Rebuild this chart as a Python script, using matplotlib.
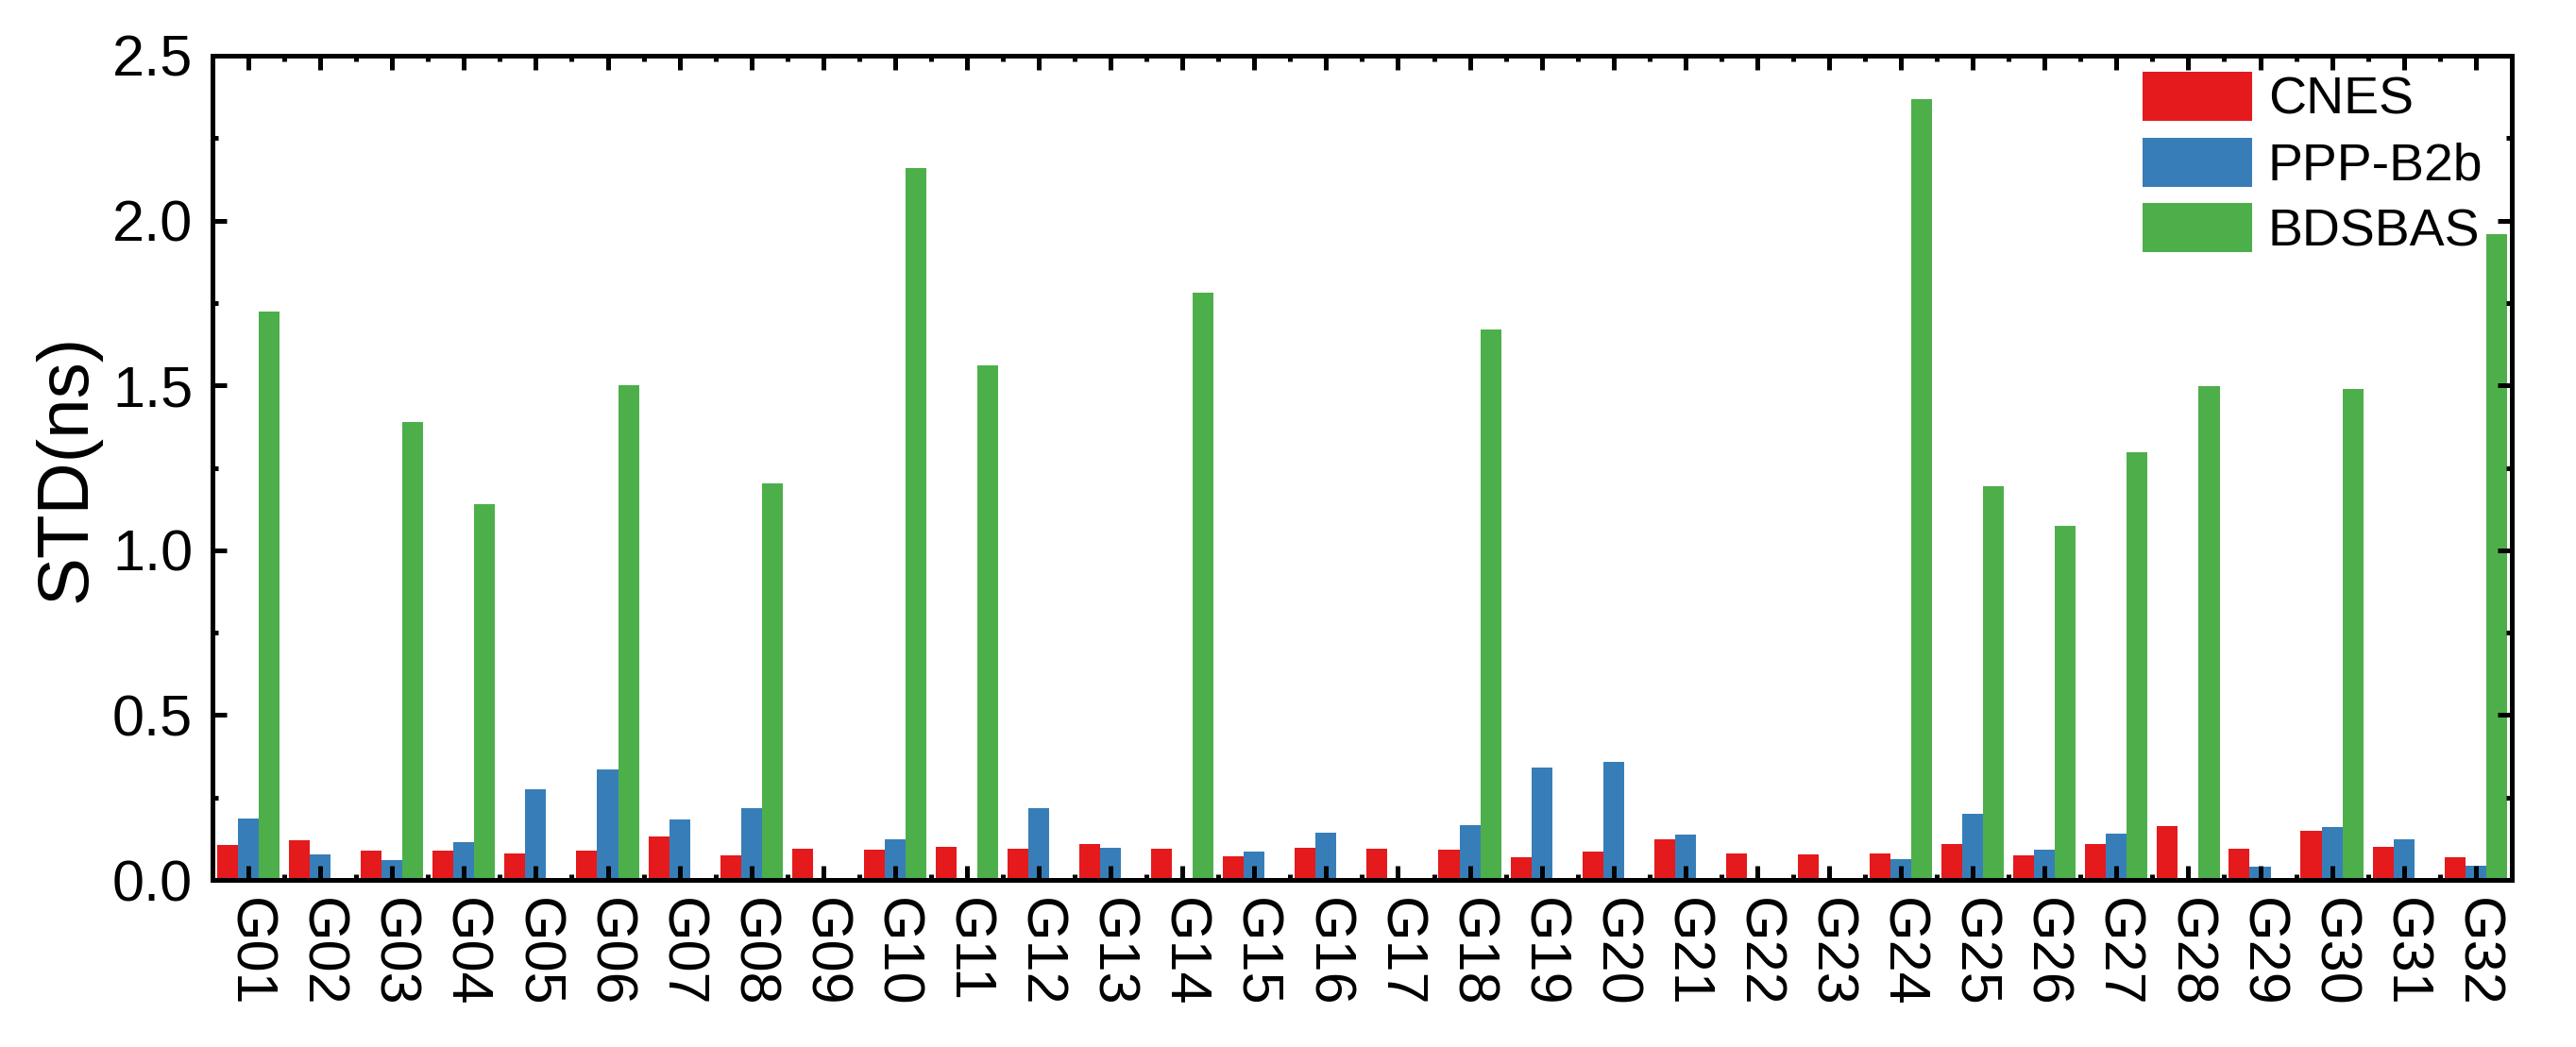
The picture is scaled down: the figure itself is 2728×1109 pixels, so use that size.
#!/usr/bin/env python3
"""
STD of clock products per GPS satellite (CNES / PPP-B2b / BDSBAS)
"""

import numpy as np
import matplotlib
matplotlib.use('Agg')
import matplotlib.pyplot as plt
from matplotlib.ticker import MultipleLocator

plt.rcParams['font.family'] = ['Liberation Sans', 'DejaVu Sans']

nan = np.nan

# satellite PRNs
sats = ['G%02d' % i for i in range(1, 33)]

# STD values (ns), nan = no product for that satellite
cnes = [0.107, 0.120, 0.090, 0.090, 0.079, 0.090, 0.133, 0.075,
        0.095, 0.092, 0.099, 0.095, 0.110, 0.094, 0.073, 0.097,
        0.094, 0.093, 0.068, 0.086, 0.123, 0.081, 0.078, 0.081,
        0.108, 0.075, 0.110, 0.162, 0.095, 0.150, 0.100, 0.068]
ppp_b2b = [0.185, 0.078, 0.060, 0.115, 0.274, 0.336, 0.182, 0.219,
           nan, 0.123, nan, 0.217, 0.098, nan, 0.086, 0.143,
           nan, 0.167, 0.342, 0.357, 0.138, nan, nan, 0.063,
           0.201, 0.093, 0.141, nan, 0.039, 0.160, 0.124, 0.044]
bdsbas = [1.725, nan, 1.388, 1.140, nan, 1.502, nan, 1.204,
          nan, 2.160, 1.561, nan, nan, 1.780, nan, nan,
          nan, 1.670, nan, nan, nan, nan, nan, 2.368,
          1.194, 1.075, 1.298, 1.497, nan, 1.488, nan, 1.958]

series = [('CNES', cnes, '#E41A1C'),
          ('PPP-B2b', ppp_b2b, '#377EB8'),
          ('BDSBAS', bdsbas, '#4DAF4A')]


def plot_std():
    fig = plt.figure(figsize=(27.28, 11.09), dpi=100)
    ax = fig.add_axes([0.0825, 0.1596, 0.8925, 0.7872])

    x = np.arange(1, len(sats) + 1)
    w = 0.29
    for k, (name, vals, col) in enumerate(series):
        ax.bar(x + (k - 1) * w, np.array(vals, dtype=float), width=w,
               color=col, label=name, linewidth=0)

    ax.set_xlim(0.5, 32.5)
    ax.set_ylim(0, 2.5)
    ax.set_xticks(x)
    ax.set_xticklabels(sats, rotation=-90)
    ax.xaxis.set_minor_locator(MultipleLocator(1))
    ax.xaxis.set_minor_locator(matplotlib.ticker.FixedLocator(np.arange(0.5, 33, 1)))
    ax.yaxis.set_major_locator(MultipleLocator(0.5))
    ax.yaxis.set_minor_locator(MultipleLocator(0.25))
    ax.yaxis.set_major_formatter(matplotlib.ticker.FormatStrFormatter('%.1f'))

    for s in ax.spines.values():
        s.set_linewidth(3.6)
    ax.tick_params(which='both', direction='in', top=True, right=True, width=3.6)
    ax.tick_params(which='major', length=10.5)
    ax.tick_params(which='minor', length=4.5)
    ax.tick_params(axis='y', which='major', labelsize=44, pad=15)
    ax.tick_params(axis='x', which='major', labelsize=44, pad=14)

    ax.set_ylabel('STD(ns)', fontsize=55)
    ax.yaxis.set_label_coords(-0.0485, 0.5)

    ax.legend(loc='upper left', bbox_to_anchor=(0.8318, 0.9315),
              bbox_transform=fig.transFigure, frameon=False, fontsize=40,
              handlelength=2.09, handleheight=1.06, labelspacing=0.23,
              handletextpad=0.3, borderpad=0, borderaxespad=0)

    fig.savefig('out.png', dpi=100)


if __name__ == "__main__":
    plot_std()
